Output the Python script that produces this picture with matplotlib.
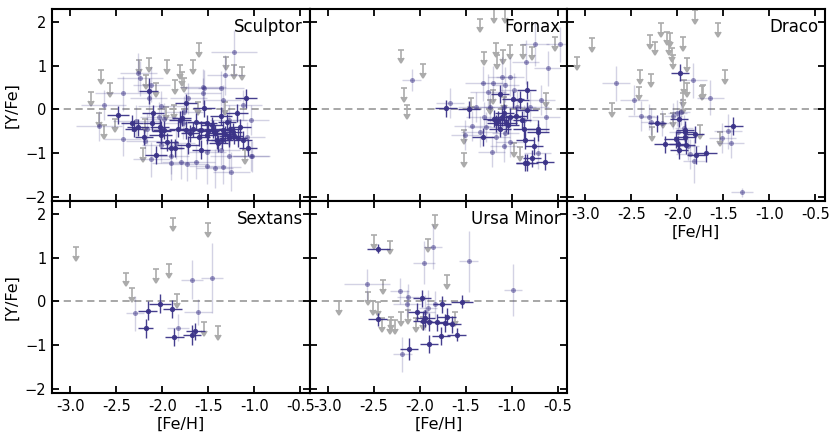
import matplotlib
matplotlib.use("Agg")
import matplotlib.pyplot as plt
import numpy as np

# ---------------- data: (Fe/H, Y/Fe, xerr, yerr) ----------------
SCL_DARK = [
    (-2.48, -0.13, 0.12, 0.20), (-2.33, -0.32, 0.12, 0.18), (-2.31, -0.44, 0.10, 0.20),
    (-2.26, -0.41, 0.12, 0.20), (-2.20, -0.64, 0.10, 0.18), (-2.15, 0.43, 0.10, 0.30),
    (-2.10, -0.09, 0.12, 0.20), (-2.11, -0.31, 0.10, 0.18), (-2.07, -1.05, 0.12, 0.20),
    (-2.03, -0.41, 0.10, 0.20), (-2.02, -0.59, 0.12, 0.20), (-2.01, -0.49, 0.10, 0.22),
    (-1.91, -0.89, 0.12, 0.20), (-1.86, -0.89, 0.10, 0.20), (-1.81, -0.24, 0.12, 0.20),
    (-1.79, -0.19, 0.10, 0.18), (-1.74, 0.15, 0.12, 0.20), (-1.74, -0.47, 0.10, 0.20),
    (-1.72, -0.82, 0.12, 0.20), (-1.67, -0.46, 0.12, 0.18), (-1.63, -0.28, 0.10, 0.20),
    (-1.58, -0.47, 0.12, 0.20), (-1.58, -0.92, 0.10, 0.22), (-1.55, 0.02, 0.12, 0.20),
    (-1.51, -0.32, 0.10, 0.20), (-1.46, -0.36, 0.12, 0.18), (-1.43, -0.55, 0.10, 0.20),
    (-1.41, -0.70, 0.12, 0.20), (-1.39, -0.78, 0.10, 0.20), (-1.36, -0.15, 0.12, 0.20),
    (-1.34, -0.47, 0.10, 0.20), (-1.32, -0.57, 0.12, 0.20), (-1.28, -0.66, 0.10, 0.20),
    (-1.26, -0.44, 0.12, 0.20), (-1.23, -0.51, 0.10, 0.20), (-1.19, -0.08, 0.12, 0.20),
    (-1.18, -0.66, 0.10, 0.20), (-1.16, -0.41, 0.12, 0.20), (-1.09, 0.25, 0.12, 0.22),
    (-1.07, -0.88, 0.10, 0.20), (-1.60, -0.63, 0.12, 0.20), (-1.51, -0.59, 0.10, 0.20),
    (-1.98, -0.47, 0.12, 0.20), (-1.83, -0.44, 0.10, 0.20), (-1.28, -0.62, 0.10, 0.20),
    (-1.35, -0.70, 0.12, 0.20), (-1.22, -0.60, 0.10, 0.20), (-1.45, -0.45, 0.10, 0.20),
    (-1.50, -0.50, 0.12, 0.20), (-1.70, -0.55, 0.10, 0.20), (-1.95, -0.75, 0.12, 0.20),
    (-1.30, -0.30, 0.10, 0.20), (-1.12, -0.70, 0.10, 0.20),
]
SCL_LIGHT = [
    (-2.26, 0.84, 0.20, 0.45), (-2.24, 0.71, 0.25, 0.40), (-2.43, 0.37, 0.30, 0.40),
    (-2.64, 0.10, 0.25, 0.35), (-2.69, -0.38, 0.25, 0.35), (-2.43, -0.68, 0.20, 0.40),
    (-2.29, -0.26, 0.25, 0.35), (-2.15, 0.25, 0.20, 0.40), (-2.02, 0.08, 0.25, 0.35),
    (-2.04, -0.17, 0.20, 0.35), (-2.02, -0.82, 0.20, 0.40), (-1.80, -1.20, 0.20, 0.40),
    (-1.73, -1.25, 0.20, 0.40), (-1.63, -1.20, 0.20, 0.40), (-1.51, -1.30, 0.20, 0.40),
    (-1.43, -1.35, 0.20, 0.45), (-1.34, -1.31, 0.20, 0.40), (-1.25, -1.43, 0.20, 0.45),
    (-1.22, 1.32, 0.25, 0.50), (-1.32, 0.79, 0.20, 0.45), (-1.36, 0.48, 0.25, 0.40),
    (-1.34, 0.21, 0.20, 0.35), (-1.56, 0.52, 0.25, 0.40), (-1.56, 0.37, 0.20, 0.35),
    (-1.72, 0.25, 0.20, 0.35), (-1.76, -0.05, 0.20, 0.35), (-1.04, -0.24, 0.20, 0.35),
    (-1.03, -1.08, 0.20, 0.35), (-1.08, -0.63, 0.20, 0.35), (-1.91, -1.08, 0.20, 0.40),
    (-1.85, -0.78, 0.20, 0.35), (-1.28, -1.08, 0.20, 0.40), (-1.36, -0.93, 0.20, 0.35),
    (-1.51, -0.97, 0.20, 0.35), (-1.78, -0.32, 0.20, 0.35), (-1.98, -0.21, 0.20, 0.35),
    (-2.17, -0.44, 0.20, 0.35), (-1.28, -0.24, 0.20, 0.35), (-1.12, 0.10, 0.20, 0.35),
    (-2.12, 0.56, 0.20, 0.40), (-1.55, 0.50, 0.20, 0.40), (-2.19, -0.72, 0.20, 0.35),
    (-2.12, -1.14, 0.20, 0.40), (-1.91, -1.22, 0.20, 0.40), (-1.04, -1.07, 0.20, 0.35),
]
SCL_LIM = [
    (-2.67, 0.90), (-2.57, 0.60), (-2.78, 0.40), (-2.25, 1.13), (-2.14, 1.17),
    (-1.95, 1.13), (-1.81, 1.02), (-1.79, 0.86), (-1.86, 0.67), (-1.76, 0.71),
    (-1.67, 1.13), (-1.60, 1.51), (-1.31, 1.21), (-1.22, 1.02), (-1.13, 0.98),
    (-2.07, 0.60), (-2.18, 0.79), (-2.21, -0.89), (-1.61, 0.18), (-2.51, -0.21),
    (-2.63, -0.36), (-2.69, -0.09), (-2.19, -0.21), (-1.10, -0.93), (-1.32, 0.18),
    (-1.87, 0.10), (-1.96, 0.06),
]

FNX_DARK = [
    (-1.72, 0.02, 0.12, 0.20), (-1.47, 0.00, 0.12, 0.20), (-1.31, -0.63, 0.12, 0.20),
    (-1.13, 0.35, 0.10, 0.20), (-1.19, -0.21, 0.12, 0.20), (-1.15, -0.24, 0.12, 0.20),
    (-1.11, -0.17, 0.10, 0.20), (-1.06, -0.32, 0.12, 0.20), (-1.13, -0.44, 0.12, 0.20),
    (-1.17, -0.32, 0.10, 0.20), (-1.04, -0.36, 0.12, 0.20), (-0.99, 0.23, 0.12, 0.20),
    (-0.91, 0.21, 0.10, 0.20), (-0.95, -0.15, 0.12, 0.20), (-0.89, -0.24, 0.10, 0.20),
    (-0.84, 0.44, 0.10, 0.20), (-0.83, -0.02, 0.12, 0.20), (-0.87, -0.46, 0.12, 0.20),
    (-0.86, -0.70, 0.10, 0.20), (-0.76, -0.84, 0.10, 0.20), (-0.72, -0.44, 0.12, 0.20),
    (-0.72, -0.53, 0.12, 0.20), (-0.78, -1.12, 0.10, 0.20), (-0.86, -1.22, 0.10, 0.20),
    (-0.83, -1.22, 0.12, 0.20), (-0.64, -1.20, 0.10, 0.20), (-1.02, -0.17, 0.12, 0.20),
    (-1.08, -0.08, 0.10, 0.20),
]
FNX_LIGHT = [
    (-2.09, 0.67, 0.10, 0.25), (-1.67, 0.15, 0.15, 0.35), (-1.39, 0.05, 0.20, 0.35),
    (-1.51, -0.59, 0.15, 0.35), (-1.43, -0.38, 0.20, 0.35), (-1.28, -0.40, 0.20, 0.35),
    (-1.22, -0.97, 0.15, 0.35), (-1.31, 0.60, 0.20, 0.40), (-1.26, 0.40, 0.20, 0.40),
    (-1.20, 0.60, 0.15, 0.40), (-1.07, 0.56, 0.15, 0.40), (-1.02, 0.75, 0.15, 0.45),
    (-0.85, 1.09, 0.15, 0.50), (-0.75, 1.50, 0.15, 0.50), (-0.61, 0.94, 0.15, 0.40),
    (-0.48, 1.49, 0.15, 0.40), (-0.68, 0.21, 0.15, 0.35), (-0.63, -0.17, 0.15, 0.35),
    (-1.09, -0.85, 0.15, 0.35), (-1.02, -0.74, 0.15, 0.35), (-0.72, -1.01, 0.15, 0.35),
    (-1.24, 0.06, 0.20, 0.35), (-1.09, 0.06, 0.20, 0.35), (-0.94, 0.06, 0.20, 0.35),
    (-0.80, 0.06, 0.20, 0.35), (-0.98, 0.44, 0.15, 0.40), (-1.11, 0.75, 0.15, 0.45),
    (-1.30, -0.17, 0.20, 0.35), (-1.17, -0.63, 0.15, 0.35), (-1.07, -0.55, 0.15, 0.35),
    (-0.87, -0.24, 0.15, 0.35), (-1.35, -0.51, 0.20, 0.35),
]
FNX_LIM = [
    (-2.21, 1.37), (-1.97, 1.04), (-2.17, 0.48), (-2.14, 0.10), (-1.52, -0.47),
    (-1.52, -1.01), (-1.44, 0.27), (-1.35, 2.08), (-1.30, 1.32), (-1.17, 1.51),
    (-1.16, 1.24), (-1.10, 1.36), (-1.02, 1.47), (-1.07, 2.29), (-1.19, 2.29),
    (-0.88, 1.47), (-0.78, 1.44), (-0.63, 0.37), (-0.53, 1.66), (-0.91, -0.86),
    (-0.98, -0.78), (-1.20, 0.44), (-1.24, 0.21), (-1.09, 0.29),
]

DRA_DARK = [
    (-1.97, 0.84, 0.10, 0.20), (-2.22, -0.32, 0.10, 0.20), (-2.13, -0.80, 0.12, 0.20),
    (-2.02, -0.69, 0.12, 0.20), (-1.99, -0.80, 0.10, 0.20), (-1.98, -0.93, 0.10, 0.20),
    (-1.92, -0.53, 0.10, 0.20), (-1.92, -0.64, 0.12, 0.20), (-1.91, -0.82, 0.10, 0.20),
    (-1.81, -0.57, 0.10, 0.20), (-1.80, -1.05, 0.10, 0.20), (-1.69, -1.01, 0.12, 0.20),
    (-1.39, -0.38, 0.10, 0.20), (-1.98, -0.21, 0.10, 0.20), (-1.92, -0.47, 0.10, 0.20),
]
DRA_LIGHT = [
    (-2.67, 0.60, 0.15, 0.40), (-2.47, 0.21, 0.15, 0.35), (-2.39, -0.15, 0.15, 0.35),
    (-2.31, -0.18, 0.10, 0.30), (-2.29, -0.28, 0.10, 0.30), (-2.17, -0.31, 0.10, 0.30),
    (-2.05, -0.15, 0.10, 0.30), (-2.00, -0.09, 0.10, 0.30), (-1.96, -0.05, 0.10, 0.30),
    (-1.83, 0.67, 0.15, 0.40), (-1.64, 0.27, 0.15, 0.40), (-1.93, -0.42, 0.10, 0.30),
    (-1.86, -1.02, 0.15, 0.35), (-1.82, -1.18, 0.12, 0.50), (-1.45, -0.50, 0.15, 0.40),
    (-1.51, -0.66, 0.15, 0.35), (-1.42, -0.76, 0.15, 0.35), (-1.30, -1.90, 0.12, 0.10),
    (-1.88, -0.85, 0.12, 0.30), (-1.99, -0.51, 0.10, 0.30),
]
DRA_LIM = [
    (-3.09, 1.21), (-2.93, 1.63), (-2.71, 0.14), (-2.41, 0.90), (-2.42, 0.52),
    (-2.29, 0.82), (-2.30, 1.70), (-2.24, 1.55), (-2.18, 1.97), (-2.11, 1.78),
    (-2.08, 1.74), (-2.09, 1.55), (-2.06, 1.40), (-2.05, 1.24), (-1.94, 1.66),
    (-1.89, 1.17), (-1.93, 0.67), (-1.89, 0.60), (-1.94, 0.37), (-1.94, 0.21),
    (-1.81, 2.27), (-1.73, 0.53), (-1.72, 0.56), (-1.56, 1.97), (-1.48, 0.90),
    (-1.54, -0.53), (-1.75, -0.36), (-2.16, -0.11), (-2.28, -0.40), (-2.05, -0.09),
]

SEX_DARK = [
    (-2.18, -0.62, 0.08, 0.22), (-2.16, -0.21, 0.10, 0.22), (-2.03, -0.05, 0.12, 0.22),
    (-1.89, -0.18, 0.10, 0.20), (-1.87, -0.82, 0.10, 0.20), (-1.68, -0.77, 0.10, 0.22),
    (-1.64, -0.69, 0.10, 0.20),
]
SEX_LIGHT = [
    (-2.30, -0.27, 0.10, 0.40), (-1.83, -0.60, 0.12, 0.30), (-1.68, 0.50, 0.12, 0.45),
    (-1.46, 0.54, 0.12, 0.80), (-1.61, -0.24, 0.15, 0.30),
]
SEX_LIM = [
    (-2.94, 1.25), (-2.40, 0.66), (-2.33, 0.31), (-2.07, 0.74), (-1.93, 0.85),
    (-1.88, 1.92), (-1.84, 0.16), (-1.55, -0.47), (-1.50, 1.79), (-1.39, -0.56),
]

UMI_DARK = [
    (-2.45, 1.21, 0.12, 0.10), (-2.46, -0.41, 0.10, 0.15), (-2.12, -1.10, 0.10, 0.25),
    (-2.03, -0.24, 0.10, 0.20), (-1.98, 0.07, 0.10, 0.20), (-1.97, -0.45, 0.10, 0.20),
    (-1.94, -0.39, 0.10, 0.20), (-1.90, -0.98, 0.10, 0.20), (-1.90, -0.47, 0.10, 0.20),
    (-1.81, -0.48, 0.10, 0.20), (-1.77, -0.79, 0.10, 0.20), (-1.76, -0.07, 0.10, 0.20),
    (-1.73, -0.50, 0.10, 0.20), (-1.71, -0.35, 0.10, 0.20), (-1.65, -0.53, 0.10, 0.20),
    (-1.60, -0.76, 0.10, 0.15), (-1.54, -0.01, 0.12, 0.15),
]
UMI_LIGHT = [
    (-2.57, 0.39, 0.25, 0.35), (-2.22, 0.24, 0.10, 0.30), (-2.19, -1.21, 0.10, 0.40),
    (-2.13, 0.09, 0.12, 0.30), (-2.14, -0.05, 0.15, 0.30), (-1.96, 0.89, 0.12, 0.50),
    (-1.86, 1.24, 0.10, 0.50), (-1.91, -0.15, 0.10, 0.40), (-1.94, -0.25, 0.10, 0.40),
    (-1.83, -0.07, 0.10, 0.30), (-1.47, 0.92, 0.10, 0.70), (-0.99, 0.26, 0.10, 0.60),
]
UMI_LIM = [
    (-2.88, 0.01), (-2.56, 0.22), (-2.51, 0.01), (-2.50, 1.52), (-2.45, -0.02),
    (-2.40, 0.49), (-2.41, -0.39), (-2.32, 1.39), (-2.33, -0.43), (-2.31, -0.35),
    (-2.27, -0.43), (-2.20, -0.24), (-2.13, -0.20), (-2.04, -0.39), (-1.91, 1.44),
    (-1.83, 1.98), (-1.71, 0.60), (-1.62, -0.24), (-1.97, -0.35),
]

GALAXIES = ["Sculptor", "Fornax", "Draco", "Sextans", "Ursa Minor"]
PANEL_DATA = {
    "Sculptor": (SCL_DARK, SCL_LIGHT, SCL_LIM),
    "Fornax": (FNX_DARK, FNX_LIGHT, FNX_LIM),
    "Draco": (DRA_DARK, DRA_LIGHT, DRA_LIM),
    "Sextans": (SEX_DARK, SEX_LIGHT, SEX_LIM),
    "Ursa Minor": (UMI_DARK, UMI_LIGHT, UMI_LIM),
}
XTICKS = [-3.0, -2.5, -2.0, -1.5, -1.0, -0.5]
XTICKLABELS = ["-3.0", "-2.5", "-2.0", "-1.5", "-1.0", "-0.5"]
YTICKS = [-2, -1, 0, 1, 2]

# ---------------- style ----------------
PURPLE = "#3b3388"
GREY = "#ababab"
LIM_LEN = 0.2

W, H = 830, 436
fig = plt.figure(figsize=(W / 100, H / 100), dpi=100)

x0s = [52, 309.5, 567]
y_tops = [9, 201]
pw, ph = 257.5, 192

positions = {
    "Sculptor": (0, 0), "Fornax": (0, 1), "Draco": (0, 2),
    "Sextans": (1, 0), "Ursa Minor": (1, 1),
}

for name in GALAXIES:
    r, c = positions[name]
    ax = fig.add_axes([x0s[c] / W, 1 - (y_tops[r] + ph) / H, pw / W, ph / H])
    dark, light, lim = PANEL_DATA[name]

    ax.axhline(0, color="#a0a0a0", lw=1.3, ls=(0, (4, 2.5)), zorder=1)

    lx, ly = zip(*lim)
    ax.errorbar(lx, ly, yerr=LIM_LEN, uplims=True, fmt="none", color=GREY,
                ecolor=GREY, elinewidth=1.2, capsize=2.2, capthick=1.2,
                mfc=GREY, mec=GREY, zorder=2)

    x, y, xe, ye = map(np.array, zip(*light))
    ax.errorbar(x, y, xerr=xe, yerr=ye, fmt="none", ecolor=PURPLE,
                elinewidth=1.0, alpha=0.22, zorder=3)
    ax.plot(x, y, "o", color=PURPLE, ms=3.6, mew=0, alpha=0.5, zorder=4)

    x, y, xe, ye = map(np.array, zip(*dark))
    ax.errorbar(x, y, xerr=xe, yerr=ye, fmt="o", color=PURPLE, ms=3.8, mew=0,
                ecolor=PURPLE, elinewidth=1.0, alpha=0.95, zorder=5)

    ax.set_xlim(-3.2, -0.4)
    ax.set_ylim(-2.1, 2.3)
    ax.set_xticks(XTICKS)
    ax.set_yticks(YTICKS)
    ax.tick_params(direction="in", top=True, right=True, length=5, width=1.3,
                   labelsize=10.5, pad=4)
    for sp in ax.spines.values():
        sp.set_linewidth(1.5)

    if name in ("Draco", "Sextans", "Ursa Minor"):
        ax.set_xticklabels(XTICKLABELS)
        ax.set_xlabel("[Fe/H]", fontsize=11.5, labelpad=2)
    else:
        ax.set_xticklabels([])
    if c == 0:
        ax.set_ylabel("[Y/Fe]", fontsize=11.5, labelpad=4)
    else:
        ax.set_yticklabels([])

    ax.text(0.975, 0.955, name, transform=ax.transAxes, ha="right", va="top",
            fontsize=12, zorder=10)

fig.savefig("out.png", dpi=100)
